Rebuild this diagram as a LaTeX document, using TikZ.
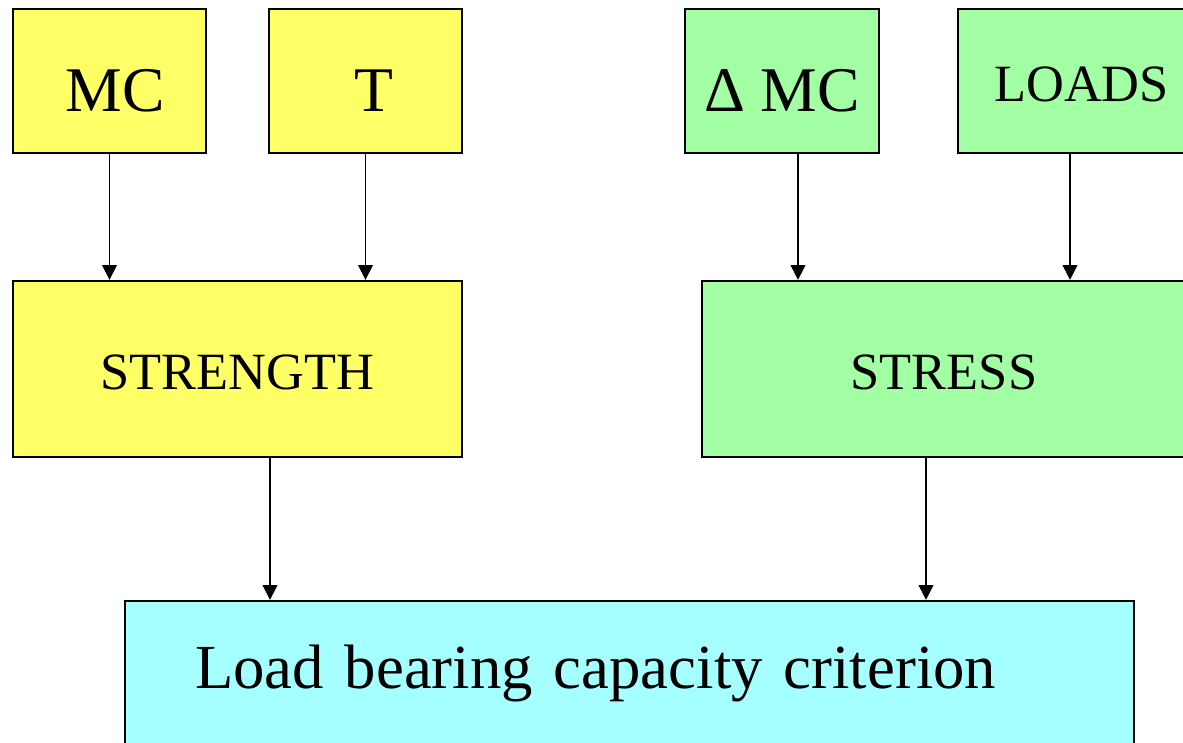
\documentclass[tikz,border=0pt]{standalone}
\usepackage{fontspec}
\setmainfont{Liberation Serif}
\usepackage{xcolor}
\usepackage{tikz}
\usetikzlibrary{arrows.meta,positioning,calc}
\definecolor{colY}{RGB}{255,255,102}
\definecolor{colG}{RGB}{163,255,163}
\definecolor{colC}{RGB}{166,255,255}
\tikzset{
  box/.style  ={rectangle,draw,line width=0.55pt,inner sep=0pt,text depth=0pt},
  inp/.style  ={box,minimum width=1.93cm,minimum height=1.44cm,font=\fontsize{18.1}{20}\selectfont,text height=0.62cm},
  mid/.style  ={box,minimum height=1.76cm,font=\fontsize{14.9}{17}\selectfont,text height=0.42cm},
  yel/.style  ={fill=colY}, grn/.style={fill=colG}, cyn/.style={fill=colC},
  ar/.style   ={-{Triangle[length=1.5mm,width=1.45mm]},line width=0.55pt},
}

\begin{document}
\begin{tikzpicture}
  \path[use as bounding box,clip] (0,0) rectangle (11.83,-7.43);
  % inputs
  \node[inp,yel] (mc) at (1.095,-0.81){\hspace*{0.11cm}MC};
  \node[inp,yel] (t) at (3.655,-0.81){\hspace*{0.16cm}T};
  \node[inp,grn,minimum width=1.94cm] (dmc) at (7.82,-0.81){Δ MC};
  \node[inp,grn,minimum width=2.47cm,font=\fontsize{14.9}{17}\selectfont,text height=0.41cm] (loads) at (10.815,-0.81){LOADS};
  % strength / stress
  \node[mid,yel,minimum width=4.49cm] (strength) at (2.375,-3.69){STRENGTH};
  \node[mid,grn,minimum width=4.84cm] (stress) at (9.44,-3.69){STRESS};
  % criterion
  \node[box,cyn,minimum width=10.09cm,minimum height=1.76cm,inner xsep=0.70cm,text width=8.69cm,align=left,
        font=\fontsize{17.85}{20}\selectfont,text height=0.45cm,text depth=0.45cm] (crit) at (6.295,-6.89){Load bearing capacity criterion};
  \draw[ar] (mc) -- (mc |- strength.north);
  \draw[ar] (t) -- (t |- strength.north);
  \draw[ar] ([xshift=0.16cm]dmc.south) -- ([xshift=0.16cm]dmc.south |- stress.north);
  \draw[ar] ([xshift=-0.115cm]loads.south) -- ([xshift=-0.115cm]loads.south |- stress.north);
  \draw[ar] ([xshift=0.325cm]strength.south) -- ([xshift=0.325cm]strength.south |- crit.north);
  \draw[ar] ([xshift=-0.18cm]stress.south) -- ([xshift=-0.18cm]stress.south |- crit.north);
\end{tikzpicture}
\end{document}
